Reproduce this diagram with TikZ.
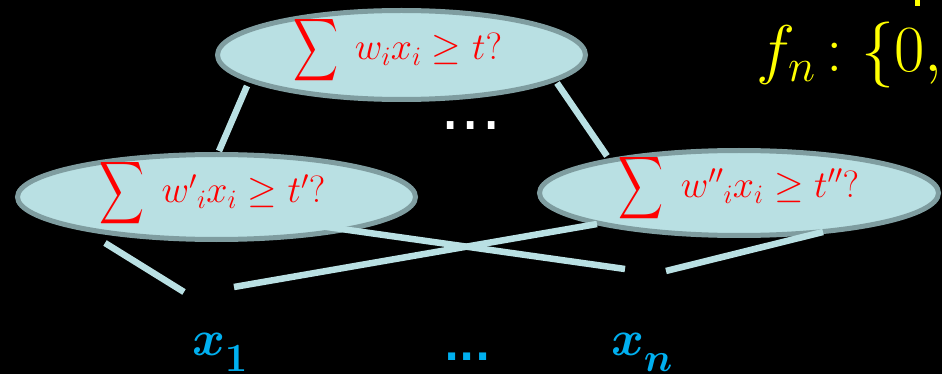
\RequirePackage{fix-cm}
\documentclass[tikz,border=0pt]{standalone}
\usepackage{amsmath}
\usepackage{bm}
\usepackage{graphicx}
\usepackage{fontspec}
\newfontfamily\dotfont{DejaVu Sans}
\usetikzlibrary{shapes.geometric,calc}
\DeclareMathSizes{50}{50}{40}{32}

\definecolor{nodefill}{HTML}{B9E0E3}
\definecolor{nodeedge}{HTML}{7F9DA0}
\definecolor{testred}{HTML}{FF0000}
\definecolor{varblue}{HTML}{00B0F0}
\definecolor{fnyellow}{HTML}{FFFF00}

% a large, slim summation sign
\newcommand{\bigsum}{\vcenter{\hbox{\resizebox*{45pt}{70pt}{$\displaystyle\sum$}}}\mkern8mu}
% bold input variable with a deep subscript
\newcommand{\invar}[1]{\bm{x}_{\lower9pt\hbox{$\scriptstyle\bm{#1}$}}}

\tikzset{
  unit/.style={ellipse, draw=nodeedge, line width=5pt, fill=nodefill, inner sep=0pt},
  rule/.style={text=testred, inner sep=0pt, font=\fontsize{38}{42}\selectfont},
  wire/.style={draw=nodefill, line width=6.5pt, line cap=butt},
  var/.style={text=varblue, font=\fontsize{50}{54}\selectfont, inner sep=0pt}
}

\begin{document}
\begin{tikzpicture}[x=1pt, y=-1pt]
  \useasboundingbox (0,0) rectangle (942,374);
  \clip (0,0) rectangle (942,374);
  \fill[black] (0,0) rectangle (942,374);

  % threshold units
  \node[unit, minimum width=368pt, minimum height=89pt] (top) at (401.5,55) {};
  \node[unit, minimum width=398pt, minimum height=85pt] (left) at (216.5,197) {};
  \node[unit, minimum width=399pt, minimum height=85pt] (right) at (739,193) {};

  % wire end points
  \coordinate (tl) at (247,86);   \coordinate (lt) at (219,151);
  \coordinate (tr) at (557,83);   \coordinate (rt) at (607,156);
  \coordinate (lb) at (105,243);  \coordinate (x1a) at (184,292);
  \coordinate (x1b) at (234,287); \coordinate (rb) at (597,224);
  \coordinate (lc) at (320,226);  \coordinate (xna) at (625,269);
  \coordinate (xnb) at (666,271); \coordinate (rc) at (823,232);

  \draw[wire] (tl) -- (lt);
  \draw[wire] (tr) -- (rt);
  \draw[wire] (lb) -- (x1a);
  \draw[wire] (x1b) -- (rb);
  \draw[wire] (lc) -- (xna);
  \draw[wire] (xnb) -- (rc);

  % threshold tests
  \node[rule] (topt) at ($(top.center)+(-4,-5)$) {$\bigsum w_i x_i \ge t?$};
  \node[rule] (leftt) at ($(left.center)+(-4,-3.5)$) {$\bigsum w'{}_i x_i \ge t'?$};
  \node[rule] (rightt) at ($(right.center)+(0,-5)$) {$\bigsum w''{}_i x_i \ge t''?$};

  % ellipsis between the hidden units
  \node[anchor=base, inner sep=0pt, text=white,
        font=\dotfont\fontsize{64}{70}\selectfont] (mid) at (471,130) {...};

  % inputs
  \node[var, anchor=base] (x1) at (220,355) {$\invar{1}$};
  \node[var, anchor=base] (xn) at (642,355) {$\invar{n}$};
  \node[anchor=base, inner sep=0pt, text=varblue,
        font=\dotfont\bfseries\fontsize{40}{46}\selectfont] (xdots) at (467.5,360) {...};

  % boolean function label
  \node[anchor=base west, inner sep=0pt, text=fnyellow,
        font=\fontsize{66}{70}\selectfont] (fn) at (756,72)
    {$f_n\mkern3mu{:}\mkern5mu\{0,1\}^n \to \{0,1\}$};
  \fill[fnyellow] (915,0) rectangle (920,6);
\end{tikzpicture}
\end{document}
